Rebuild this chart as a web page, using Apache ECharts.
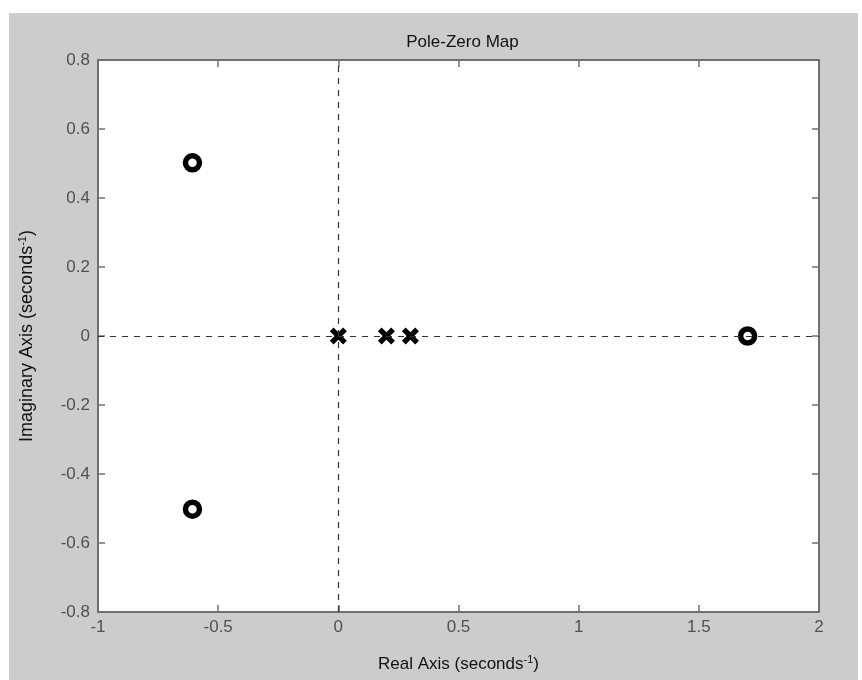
<!DOCTYPE html>
<html><head><meta charset="utf-8">
<script src="https://cdn.jsdelivr.net/npm/echarts@6/dist/echarts.min.js"></script>
<style>
html,body{margin:0;padding:0;background:#fff;width:862px;height:680px;overflow:hidden;}
#c{position:absolute;left:9px;top:13px;width:849px;height:667px;background:#cccccc;}
</style></head>
<body><div id="c"></div>
<script>
const titleText = 'Pole-Zero Map';
const xTicks = [-1, -0.5, 0, 0.5, 1, 1.5, 2];
const yTicks = [-0.8, -0.6, -0.4, -0.2, 0, 0.2, 0.4, 0.6, 0.8];
const zerosRe = [-0.607, -0.607, 1.703];
const zerosIm = [0.502, -0.502, 0];
const polesRe = [0, 0.2, 0.3];
const polesIm = [0, 0, 0];

const chart = echarts.init(document.getElementById('c'));
const font = 'Liberation Sans, Arial, sans-serif';
const xPath = 'path://M0,3.5 L3.5,0 L8,4.5 L12.5,0 L16,3.5 L11.5,8 L16,12.5 L12.5,16 L8,11.5 L3.5,16 L0,12.5 L4.5,8 Z';
const FS = 17;
const mkAxis = (type, pos, show, extra) => Object.assign({
  type: 'value', position: pos,
  min: type === 'x' ? xTicks[0] : yTicks[0],
  max: type === 'x' ? xTicks[xTicks.length-1] : yTicks[yTicks.length-1],
  interval: type === 'x' ? 0.5 : 0.2,
  axisLine: {show: true, onZero: false, lineStyle: {color: '#707070', width: 2}},
  axisTick: {show: true, inside: true, length: 7, lineStyle: {color: '#707070', width: 1.5}},
  axisLabel: {show: show, color: '#505050', fontFamily: font, fontSize: FS, margin: type === 'x' ? 7 : 8,
    formatter: v => String(Math.round(v*10)/10)},
  splitLine: {show: false}
}, extra || {});
const mkRich = fs => ({
  base: {fontSize: fs, fontFamily: font, color: '#111'},
  sup: {fontSize: 11, fontFamily: font, color: '#111', padding: [0,0,9,0]}
});
chart.setOption({
  animation: false,
  title: {text: titleText, left: 87 + 723/2, textAlign: 'center', top: 16,
    textStyle: {fontSize: FS, fontWeight: 'normal', color: '#111', fontFamily: font}},
  grid: {left: 87, top: 47, width: 723, height: 552, show: true, backgroundColor: '#fff', borderWidth: 0},
  xAxis: [
    mkAxis('x', 'bottom', true, {name: '{base|Real Axis (seconds}{sup|-1}{base|)}',
      nameLocation: 'middle', nameGap: 42, nameTextStyle: {rich: mkRich(17)}}),
    mkAxis('x', 'top', false)
  ],
  yAxis: [
    mkAxis('y', 'left', true, {name: '{base|Imaginary Axis (seconds}{sup|-1}{base|)}',
      nameLocation: 'middle', nameGap: 61, nameTextStyle: {rich: mkRich(18)}}),
    mkAxis('y', 'right', false)
  ],
  series: [
    {type: 'scatter', xAxisIndex: 0, yAxisIndex: 0, silent: true,
     data: zerosRe.map((x,i)=>[x, zerosIm[i]]),
     symbol: 'circle', symbolSize: 14,
     itemStyle: {color: '#fff', borderColor: '#000', borderWidth: 5.5, opacity: 1},
     markLine: {silent: true, symbol: ['none','none'], label: {show: false},
       lineStyle: {color: '#333', type: [6,6], width: 1.2},
       data: [{xAxis: 0}, {yAxis: 0}]},
     z: 3},
    {type: 'scatter', xAxisIndex: 0, yAxisIndex: 0, silent: true,
     data: polesRe.map((x,i)=>[x, polesIm[i]]),
     symbol: xPath, symbolSize: 17,
     itemStyle: {color: '#000', opacity: 1}, z: 4}
  ]
});
</script></body></html>
